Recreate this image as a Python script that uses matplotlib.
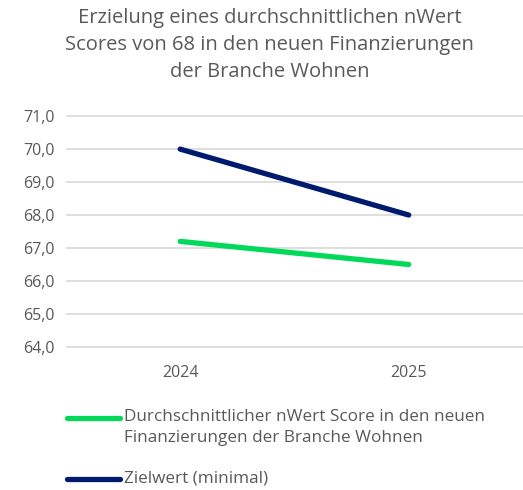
import matplotlib.pyplot as plt
from matplotlib.lines import Line2D
from matplotlib.ticker import FuncFormatter

plt.rcParams['font.family'] = ['Open Sans', 'DejaVu Sans']

years = ['2024', '2025']
score = [67.2, 66.5]
target = [70.0, 68.0]
label_score = 'Durchschnittlicher nWert Score in den neuen\nFinanzierungen der Branche Wohnen'
label_target = 'Zielwert (minimal)'
title = 'Erzielung eines durchschnittlichen nWert\nScores von 68 in den neuen Finanzierungen\nder Branche Wohnen'

grey = '#595959'
green = '#00D95A'
navy = '#001A6E'
W, H = 523, 490
fig = plt.figure(figsize=(W / 100, H / 100), dpi=100)
ax = fig.add_axes([0.126, 0.290, 0.874, 0.475])

x = range(len(years))
ax.plot(x, score, color=green, lw=3.8, solid_capstyle='round')
ax.plot(x, target, color=navy, lw=3.8, solid_capstyle='round')

ax.set_xlim(-0.5, 1.5)
ax.set_ylim(63.97, 71.03)
ax.set_xticks(list(x))
ax.set_xticklabels(years)
ax.set_yticks(range(64, 72))
ax.yaxis.set_major_formatter(FuncFormatter(lambda v, p: f'{v:.1f}'.replace('.', ',')))
ax.grid(axis='y', color='#D9D9D9', lw=1.2)
ax.set_axisbelow(True)
for s in ax.spines.values():
    s.set_visible(False)
ax.tick_params(length=0, colors=grey, labelsize=11.5, pad=8)
ax.tick_params(axis='x', pad=12)

fig.text(0.516, 0.984, title, ha='center', va='top', fontsize=14.5, color=grey, linespacing=1.48)

# legend drawn by hand so the handle sits on the first text line
def fy(py):
    return 1 - py / H

for py, col, txt in [(418, green, label_score), (479, navy, label_target)]:
    fig.add_artist(Line2D([67 / W, 120 / W], [fy(py), fy(py)], color=col, lw=3.8,
                          solid_capstyle='round'))
    fig.text(124 / W, fy(py - 9), txt, ha='left', va='top', fontsize=12.3, color=grey,
             linespacing=1.4)

fig.savefig('out.png', dpi=100)
